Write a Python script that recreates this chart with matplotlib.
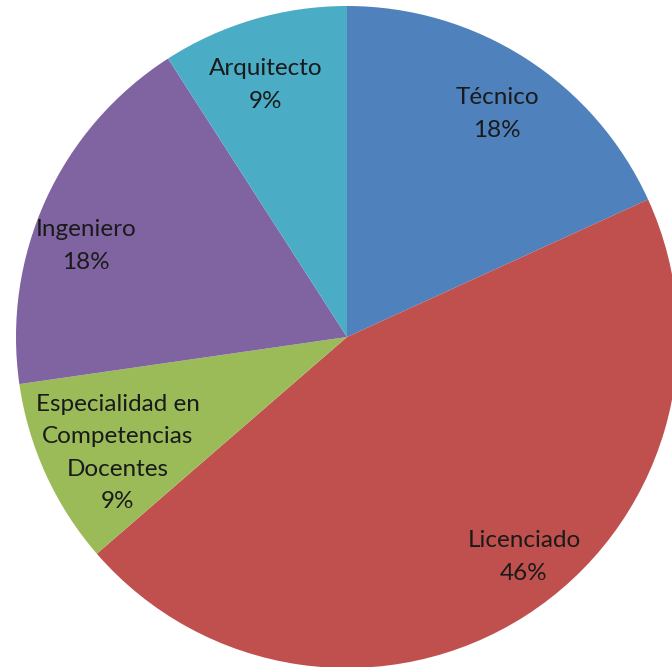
import matplotlib.pyplot as plt

# slice data, clockwise from the top
categories = ["Técnico", "Licenciado", "Especialidad en\nCompetencias\nDocentes",
              "Ingeniero", "Arquitecto"]
counts = [2, 5, 1, 2, 1]
pct_labels = ["18%", "46%", "9%", "18%", "9%"]
colors = ["#4F81BD", "#C0504D", "#9BBB59", "#8064A2", "#4BACC6"]

# label centres in pixel coords (x from left, y from top)
label_pos = [(497, 114), (524, 557), (118, 453), (86, 246), (266, 85)]

W, H = 672, 667
fig = plt.figure(figsize=(W / 100, H / 100), dpi=100)
ax = fig.add_axes([0, 0, 1, 1])

cx, cy, r = 347, 337, 331
ax.pie(counts, colors=colors, startangle=90, counterclock=False,
       center=(cx, H - cy), radius=r, frame=True,
       wedgeprops={"linewidth": 0})
ax.set_xlim(0, W)
ax.set_ylim(0, H)
ax.axis("off")

for name, pct, (x, y) in zip(categories, pct_labels, label_pos):
    ax.text(x, H - y, f"{name}\n{pct}", ha="center", va="center",
            fontsize=17.5, family="Lato", color="#1a1a1a", linespacing=1.65)

fig.savefig("out.png", dpi=100)
